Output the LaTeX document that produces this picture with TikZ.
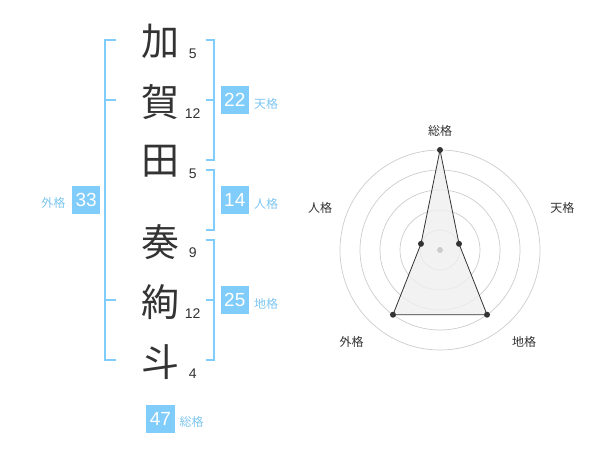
\documentclass[tikz,border=0pt]{standalone}
\usepackage{fontspec}
\usetikzlibrary{calc}
\setmainfont{Liberation Sans}
\newfontfamily\jp{Noto Sans CJK JP}
\definecolor{txt}{HTML}{333333}
\definecolor{sky}{RGB}{128,204,250}
\definecolor{lab}{RGB}{125,198,240}
\definecolor{ring}{HTML}{CCCCCC}
\definecolor{poly}{HTML}{EFEFEF}
\begin{document}
\begin{tikzpicture}[x=1pt,y=1pt,
  kanji/.style={font=\jp\fontsize{38}{38}\selectfont, text=txt, inner sep=0},
  strk/.style={font=\fontsize{14}{14}\selectfont, text=txt, inner sep=0},
  numbox/.style={fill=sky, text=white, font=\fontsize{19}{19}\selectfont, minimum width=28.5, minimum height=28.5, inner sep=0},
  kaku/.style={font=\jp\fontsize{12}{12}\selectfont, text=lab, inner sep=0},
  rlab/.style={font=\jp\fontsize{12}{12}\selectfont, text=txt, inner sep=0},
  brk/.style={draw=sky, line width=2},
  ringc/.style={draw=ring, line width=0.7},
  dotc/.style={fill=txt, draw=none}]
\useasboundingbox (0,0) rectangle (600,-470);
% characters
\node[kanji] (k1) at (160,-41.7) {加};
\node[kanji] (k2) at (160,-101.7) {賀};
\node[kanji] (k3) at (160,-161.7) {田};
\node[kanji] (k4) at (160,-241.7) {奏};
\node[kanji] (k5) at (160,-301.7) {絢};
\node[kanji] (k6) at (160,-361.7) {斗};
% stroke counts
\node[strk] (s1) at (192.7,-53.3) {5};
\node[strk] (s2) at (192.7,-113.3) {12};
\node[strk] (s3) at (192.7,-173.3) {5};
\node[strk] (s4) at (192.7,-252.7) {9};
\node[strk] (s5) at (192.7,-313.3) {12};
\node[strk] (s6) at (192.7,-373.3) {4};
% left bracket (gaikaku)
\coordinate (la) at (116,-40);
\coordinate (lb) at (105,-40);
\coordinate (lc) at (105,-360);
\coordinate (ld) at (116,-360);
\coordinate (lm1a) at (105,-100);
\coordinate (lm1b) at (116,-100);
\coordinate (lm2a) at (105,-300);
\coordinate (lm2b) at (116,-300);
\draw[brk] (la) -- (lb) -- (lc) -- (ld);
\draw[brk] (lm1a) -- (lm1b);
\draw[brk] (lm2a) -- (lm2b);
% right brackets
\coordinate (ta) at (205.7,-40);
\coordinate (tb) at (214.3,-40);
\coordinate (tc) at (214.3,-160);
\coordinate (td) at (205.7,-160);
\coordinate (tma) at (205.7,-100);
\coordinate (tmb) at (214.3,-100);
\draw[brk] (ta) -- (tb) -- (tc) -- (td);
\draw[brk] (tma) -- (tmb);
\coordinate (ja) at (205.7,-170);
\coordinate (jb) at (214.3,-170);
\coordinate (jc) at (214.3,-230);
\coordinate (jd) at (205.7,-230);
\draw[brk] (ja) -- (jb) -- (jc) -- (jd);
\coordinate (ca) at (205.7,-240);
\coordinate (cb) at (214.3,-240);
\coordinate (cc) at (214.3,-360);
\coordinate (cd) at (205.7,-360);
\coordinate (cma) at (205.7,-300);
\coordinate (cmb) at (214.3,-300);
\draw[brk] (ca) -- (cb) -- (cc) -- (cd);
\draw[brk] (cma) -- (cmb);
% boxes and labels
\node[numbox] (b33) at (86.2,-200) {33};
\node[kaku] (g33) at (53.3,-202.7) {外格};
\node[numbox] (b22) at (234.8,-100.2) {22};
\node[kaku] (g22) at (266,-103.5) {天格};
\node[numbox] (b14) at (234.8,-200.2) {14};
\node[kaku] (g14) at (266,-203.5) {人格};
\node[numbox] (b25) at (234.8,-300.2) {25};
\node[kaku] (g25) at (266,-303.5) {地格};
\node[numbox] (b47) at (160.5,-419) {47};
\node[kaku] (g47) at (191.7,-422) {総格};
% radar chart
\coordinate (o) at (440,-250);
\foreach \r in {20,40,60,80,100} \draw[ringc] (o) circle (\r);
\coordinate (p1) at ($(o)+(90:100)$);
\coordinate (p2) at ($(o)+(18:20)$);
\coordinate (p3) at ($(o)+(-54:80)$);
\coordinate (p4) at ($(o)+(-126:80)$);
\coordinate (p5) at ($(o)+(162:20)$);
\filldraw[fill=poly, fill opacity=0.8, draw=txt, line width=0.8] (p1) -- (p2) -- (p3) -- (p4) -- (p5) -- cycle;
\fill[ring] (o) circle (3);
\foreach \p in {p1,p2,p3,p4,p5} \fill[dotc] (\p) circle (3);
\node[rlab] (r1) at (440,-130.7) {総格};
\node[rlab] (r2) at (562.3,-208.3) {天格};
\node[rlab] (r3) at (524,-341.7) {地格};
\node[rlab] (r4) at (351.7,-341.7) {外格};
\node[rlab] (r5) at (320,-208.3) {人格};
\end{tikzpicture}
\end{document}
